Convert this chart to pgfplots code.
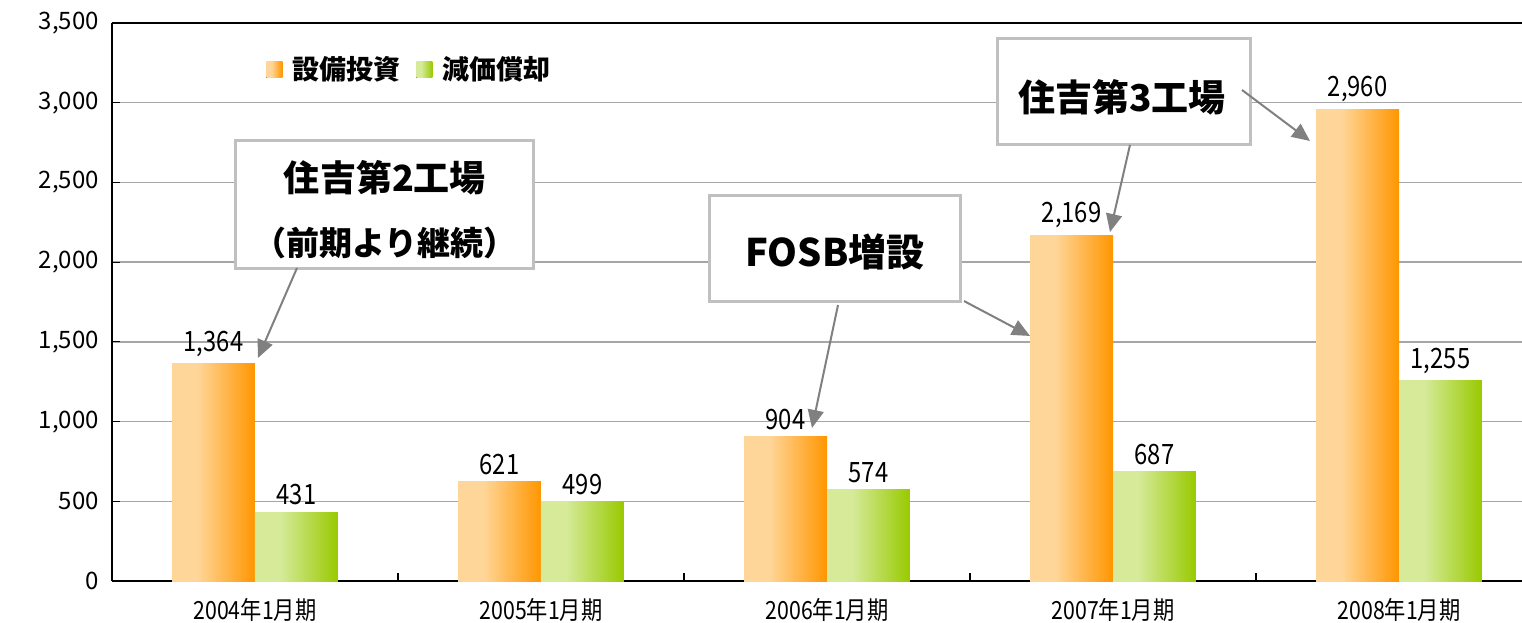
\documentclass[border=0pt]{standalone}
\usepackage{pgfplots}
\pgfplotsset{compat=1.18}
\usepackage{fontspec}
\setmainfont{Noto Sans CJK JP}
\newfontfamily\narrowfont[FakeStretch=0.85]{Noto Sans CJK JP}
\usetikzlibrary{arrows.meta}
\definecolor{oL}{HTML}{FFD699}
\definecolor{oD}{HTML}{FF9600}
\definecolor{gL}{HTML}{D6EA9A}
\definecolor{gD}{HTML}{98CA00}
\definecolor{gridgray}{HTML}{A6A6A6}
\definecolor{boxgray}{HTML}{C0C0C0}
\definecolor{arrgray}{HTML}{808080}
\pgfdeclarehorizontalshading{orangegrad}{100bp}{color(0bp)=(oL); color(25bp)=(oL); color(40bp)=(oL); color(75bp)=(oD); color(100bp)=(oD)}
\pgfdeclarehorizontalshading{greengrad}{100bp}{color(0bp)=(gL); color(25bp)=(gL); color(40bp)=(gL); color(75bp)=(gD); color(100bp)=(gD)}
\tikzset{
  annbox/.style={draw=boxgray, line width=1.5pt, fill=white},
  annarr/.style={draw=arrgray, line width=1pt, -{Triangle[length=9pt,width=8pt]}},
}
\pgfplotsset{
  obar/.style={draw=none, shading=orangegrad, bar shift=-0.145},
  gbar/.style={draw=none, shading=greengrad, bar shift=0.145},
}
\begin{document}
\begin{tikzpicture}
\begin{axis}[
  scale only axis,
  width=705pt, height=279pt,
  xmin=-0.5, xmax=4.43, ymin=0, ymax=3500,
  axis x line*=bottom, axis y line*=left,
  axis line style={black, line width=1pt},
  ytick={0,500,...,3500},
  xtick={0,1,2,3,4},
  xticklabels={2004年1月期,2005年1月期,2006年1月期,2007年1月期,2008年1月期},
  /pgf/number format/1000 sep={,},
  /pgf/number format/assume math mode=true,
  yticklabel style={font=\fontsize{12}{14}\selectfont, xshift=-3pt},
  xticklabel style={font=\narrowfont\fontsize{12.5}{14}\selectfont, yshift=-1pt},
  tick align=inside,
  major tick length=4pt,
  ytick style={black, line width=0.6pt},
  xtick style={draw=none},
  ymajorgrids,
  grid style={gridgray, line width=0.7pt},
  ybar, bar width=0.29,
  nodes near coords,
  nodes near coords style={font=\narrowfont\fontsize{14}{16}\selectfont, black},
  legend style={at={(rel axis cs:0.105,0.955)}, anchor=north west, draw=none, fill=none,
    font=\bfseries\fontsize{13.5}{16}\selectfont, legend columns=2,
    /tikz/every even column/.append style={column sep=6pt}},
  legend image code/.code={\fill[#1] (0pt,-4pt) rectangle (8pt,4pt); \path (11pt,0pt);},
]
\addplot[obar] coordinates {(0,1364)};
\addplot[gbar] coordinates {(0,431)};
\addplot[obar, forget plot] coordinates {(1,621)};
\addplot[obar, forget plot] coordinates {(2,904)};
\addplot[obar, forget plot] coordinates {(3,2169)};
\addplot[obar, forget plot] coordinates {(4,2960)};
\addplot[gbar, forget plot] coordinates {(1,499)};
\addplot[gbar, forget plot] coordinates {(2,574)};
\addplot[gbar, forget plot] coordinates {(3,687)};
\addplot[gbar, forget plot] coordinates {(4,1255)};
\legend{設備投資,減価償却}

\draw[black, line width=1pt] (rel axis cs:0,1) -- (rel axis cs:1,1);
\pgfplotsinvokeforeach{0.5,1.5,2.5,3.5}{\draw[black, line width=0.6pt] (axis cs:#1,0) -- ++(0pt,4pt);}

% annotation 1
\draw[annbox] (axis cs:-0.0664,1957) rectangle (axis cs:0.9755,2760);
\node[font=\bfseries\fontsize{18}{20}\selectfont] at (axis cs:0.4545,2528) {住吉第2工場};
\node[font=\bfseries\fontsize{16.5}{18}\selectfont] at (axis cs:0.4545,2120) {（前期より継続）};
\draw[annarr] (axis cs:0.1469,1963) -- (axis cs:0.0105,1399);

% annotation 2
\draw[annbox] (axis cs:1.5909,1750) rectangle (axis cs:2.4685,2415);
\node[font=\bfseries\fontsize{19}{21}\selectfont] at (axis cs:2.028,2064) {FOSB増設};
\draw[annarr] (axis cs:2.0385,1731) -- (axis cs:1.9476,960);
\draw[annarr] (axis cs:2.479,1756) -- (axis cs:2.7098,1537);

% annotation 3
\draw[annbox] (axis cs:2.5944,2735) rectangle (axis cs:3.479,3400);
\node[font=\bfseries\fontsize{18.5}{21}\selectfont] at (axis cs:3.0315,3036) {住吉第3工場};
\draw[annarr] (axis cs:3.0594,2735) -- (axis cs:2.9895,2189);
\draw[annarr] (axis cs:3.451,3080) -- (axis cs:3.6888,2760);

\coordinate (bbA) at (rel axis cs:-0.0794,-0.0735);
\coordinate (bbB) at (rel axis cs:1,1.0412);
\end{axis}
\pgfresetboundingbox
\path[use as bounding box] (bbA) rectangle (bbB);
\end{tikzpicture}
\end{document}
